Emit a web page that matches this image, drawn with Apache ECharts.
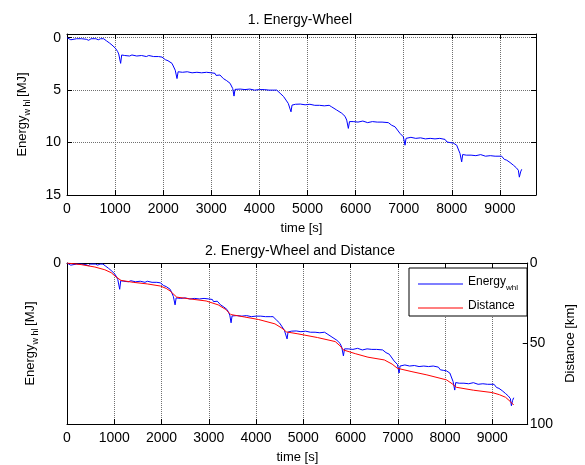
<!DOCTYPE html>
<html>
<head>
<meta charset="utf-8">
<script src="https://cdn.jsdelivr.net/npm/echarts@6/dist/echarts.min.js"></script>
<style>
  html, body { margin: 0; background: #fff; }
  #chart { width: 585px; height: 465px; }
</style>
</head>
<body>
<div id="chart"></div>
<script>
// energy at the wheel [s] / [MJ]
const timeE = [0, 40, 80, 100, 200, 300, 400, 450, 500, 600, 650, 700, 760, 820, 880, 935,
  1005, 1050, 1075, 1100, 1115, 1137, 1200, 1300, 1350, 1450, 1550, 1650, 1700, 1800, 1900, 1975,
  2045, 2100, 2183, 2250, 2287, 2310, 2400, 2500, 2600, 2700, 2800, 2900, 3000, 3077, 3100, 3130,
  3180, 3250, 3320, 3390, 3445, 3472, 3493, 3600, 3700, 3800, 3900, 4000, 4100, 4200, 4300, 4360,
  4430, 4500, 4553, 4600, 4657, 4678, 4750, 4850, 4950, 5050, 5150, 5250, 5350, 5450, 5503, 5607,
  5711, 5780, 5815, 5849, 5873, 5950, 6050, 6150, 6250, 6350, 6450, 6550, 6680, 6750, 6820, 6923,
  6992, 7027, 7048, 7150, 7250, 7350, 7450, 7550, 7650, 7750, 7859, 7900, 7963, 8030, 8101, 8170,
  8205, 8226, 8300, 8400, 8500, 8600, 8700, 8800, 8900, 9037, 9090, 9141, 9210, 9280, 9340, 9383,
  9404, 9430, 9453];
const energy = [0, 0.05, 0.2, 0.05, 0.1, 0.1, 0.15, 0.25, 0.1, 0.1, 0.2, 0.1, 0.1, 0.3, 0.5, 0.7,
  1.0, 1.3, 1.55, 1.7, 2.45, 1.65, 1.7, 1.75, 1.65, 1.75, 1.7, 1.8, 1.7, 1.8, 1.8, 1.85,
  2.1, 2.2, 2.45, 3.1, 3.9, 3.25, 3.3, 3.25, 3.35, 3.3, 3.35, 3.3, 3.35, 3.4, 3.6, 3.45,
  3.56, 3.9, 4.1, 4.35, 4.85, 5.57, 4.93, 4.9, 4.95, 4.9, 5.0, 4.95, 4.95, 5.0, 5.0, 5.0,
  5.3, 5.6, 5.95, 6.27, 7.07, 6.43, 6.35, 6.33, 6.4, 6.35, 6.45, 6.45, 6.5, 6.45, 6.6, 6.9,
  7.2, 7.5, 7.86, 8.65, 8.0, 8.0, 8.05, 7.95, 8.1, 8.0, 8.05, 8.05, 8.1, 8.35, 8.5, 9.13,
  9.45, 10.25, 9.6, 9.5, 9.6, 9.55, 9.65, 9.6, 9.65, 9.6, 9.7, 9.95, 10.0, 10.05, 10.25, 11.04,
  11.84, 11.14, 11.2, 11.2, 11.25, 11.15, 11.3, 11.25, 11.3, 11.3, 11.6, 11.68, 11.9, 12.16, 12.4, 12.64,
  13.3, 12.8, 12.55];

// distance travelled [s] / [km]
const timeD = [0, 300, 590, 800, 935, 1040, 1143, 1400, 1700, 1975, 2100, 2183, 2322, 2600, 2945,
  3200, 3362, 3465, 3750, 4054, 4400, 4550, 4643, 4886, 5300, 5676, 5780, 5849, 6100, 6368,
  6715, 6880, 6992, 7300, 7616, 8031, 8150, 8239, 8600, 9002, 9150, 9280, 9380, 9453];
const distance = [0, 1.0, 2.5, 4.2, 6.0, 8.7, 10.8, 12.0, 13.0, 14.3, 15.8, 17.4, 21.2, 22.3, 23.6,
  26.0, 28.9, 32.0, 33.5, 35.1, 37.8, 40.5, 42.8, 44.0, 46.3, 48.8, 51.5, 54.0, 56.3, 58.5,
  60.2, 62.8, 65.4, 67.5, 69.5, 72.6, 75.0, 77.2, 79.0, 80.5, 81.8, 83.4, 86.0, 88.2];

const energyTicks = [0, 5, 10, 15];

const FONT = '"Liberation Sans", Arial, sans-serif';
const zip = (xs, ys) => xs.map((x, i) => [x, ys[i]]);

const dotted = { show: true, lineStyle: { color: '#707070', type: 'dotted', width: 1 } };
const black = { color: '#000', width: 1 };
const label = { color: '#000', fontSize: 14, fontFamily: FONT };
// subscript via rich text: main text pinned to top of the line, sub to the bottom
const nameStyle = {
  color: '#000', fontSize: 13, fontFamily: FONT,
  rich: {
    a: { fontSize: 13, fontFamily: FONT, color: '#000', lineHeight: 16, verticalAlign: 'top' },
    s: { fontSize: 9, fontFamily: FONT, color: '#000', lineHeight: 16, verticalAlign: 'bottom' },
  },
};

function timeAxis(grid, pos, withLabels) {
  return {
    gridIndex: grid, type: 'value', position: pos, min: 0, max: 9750, interval: 1000,
    axisLine: { onZero: false, lineStyle: black },
    axisTick: { inside: true, length: 5, lineStyle: black },
    axisLabel: withLabels ? { ...label, margin: 7, showMaxLabel: false, formatter: v => String(v) } : { show: false },
    splitLine: withLabels ? dotted : { show: false },
    name: withLabels ? 'time [s]' : '',
    nameLocation: 'middle', nameGap: 27, nameTextStyle: { color: '#000', fontSize: 13, fontFamily: FONT },
  };
}

const chart = echarts.init(document.getElementById('chart'));
chart.setOption({
  animation: false,
  backgroundColor: '#fff',
  graphic: [
    { type: 'text', x: 300, y: 20, style: { text: '1. Energy-Wheel', align: 'center', verticalAlign: 'middle', fontSize: 14, fontFamily: FONT, fill: '#000' } },
    { type: 'text', x: 300, y: 251, style: { text: '2. Energy-Wheel and Distance', align: 'center', verticalAlign: 'middle', fontSize: 14, fontFamily: FONT, fill: '#000' } },
  ],
  grid: [
    { left: 67, right: 49, top: 34, height: 161 },
    { left: 67, right: 49, top: 263, height: 161 },
  ],
  xAxis: [
    timeAxis(0, 'bottom', true),
    timeAxis(0, 'top', false),
    timeAxis(1, 'bottom', true),
    timeAxis(1, 'top', false),
  ],
  yAxis: [
    {
      gridIndex: 0, type: 'value', position: 'left', inverse: true, min: -0.35, max: 15,
      axisLine: { onZero: false, lineStyle: black },
      axisTick: { inside: true, length: 5, lineStyle: black, customValues: energyTicks },
      axisLabel: { ...label, margin: 6, customValues: energyTicks },
      splitLine: dotted,
      name: '{a|Energy}{s|w hl }{a|[MJ]}', nameLocation: 'middle', nameRotate: 90, nameGap: 35,
      nameTextStyle: nameStyle,
    },
    {
      gridIndex: 0, type: 'value', position: 'right', inverse: true, min: -0.35, max: 15,
      axisLine: { onZero: false, lineStyle: black },
      axisTick: { inside: true, length: 5, lineStyle: black, customValues: energyTicks },
      axisLabel: { show: false }, splitLine: { show: false },
    },
    {
      gridIndex: 1, type: 'value', position: 'left', inverse: true, min: 0, max: 15, interval: 15,
      axisLine: { onZero: false, lineStyle: black },
      axisTick: { inside: true, length: 5, lineStyle: black },
      axisLabel: { ...label, margin: 6, formatter: v => (v === 0 ? '0' : '') },
      splitLine: { show: false },
      name: '{a|Energy}{s|w hl }{a|[MJ]}', nameLocation: 'middle', nameRotate: 90, nameGap: 27,
      nameTextStyle: nameStyle,
    },
    {
      gridIndex: 1, type: 'value', position: 'right', inverse: true, min: 0, max: 100, interval: 50,
      axisLine: { onZero: false, lineStyle: black },
      axisTick: { inside: true, length: 5, lineStyle: black },
      axisLabel: { ...label, margin: 2 },
      splitLine: { show: false },
      name: 'Distance [km]', nameLocation: 'middle', nameRotate: 90, nameGap: 31,
      nameTextStyle: { color: '#000', fontSize: 13, fontFamily: FONT },
    },
  ],
  legend: {
    data: ['Energy', 'Distance'],
    orient: 'vertical', left: 409, top: 268,
    icon: 'rect', itemWidth: 45, itemHeight: 1, itemGap: 8,
    padding: [8, 9, 4, 9],
    borderColor: '#000', borderWidth: 1, backgroundColor: '#fff', borderRadius: 0,
    formatter: n => (n === 'Energy' ? '{a|Energy}{s|whl}' : '{a|Distance}'),
    textStyle: {
      color: '#000', fontFamily: FONT, fontSize: 12,
      rich: {
        a: { fontSize: 12, fontFamily: FONT, color: '#000', lineHeight: 16, verticalAlign: 'top' },
        s: { fontSize: 8, fontFamily: FONT, color: '#000', lineHeight: 16, verticalAlign: 'bottom' },
      },
    },
  },
  series: [
    {
      name: 'Energy', type: 'line', xAxisIndex: 0, yAxisIndex: 0, data: zip(timeE, energy),
      showSymbol: false, color: '#0000ff', lineStyle: { color: '#0000ff', width: 1 },
    },
    {
      name: 'Energy', type: 'line', xAxisIndex: 2, yAxisIndex: 2, data: zip(timeE, energy),
      showSymbol: false, color: '#0000ff', lineStyle: { color: '#0000ff', width: 1 },
    },
    {
      name: 'Distance', type: 'line', xAxisIndex: 2, yAxisIndex: 3, data: zip(timeD, distance),
      showSymbol: false, color: '#ff0000', lineStyle: { color: '#ff0000', width: 1 },
    },
  ],
});
</script>
</body>
</html>
